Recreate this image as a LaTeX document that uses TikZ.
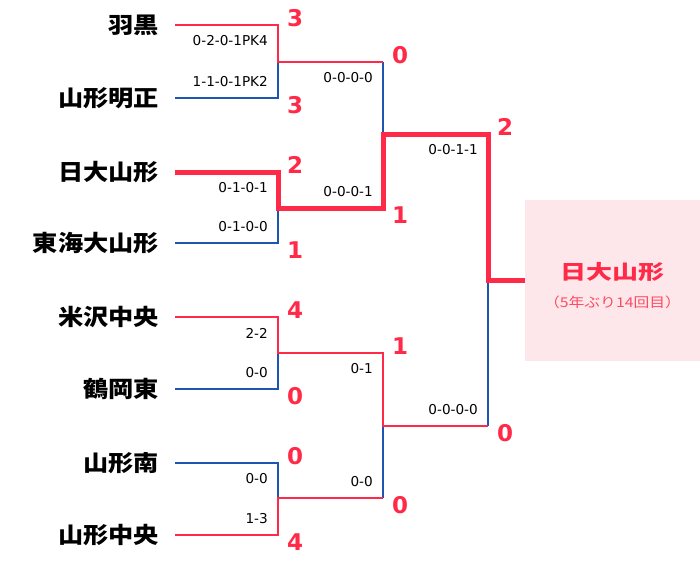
\documentclass[tikz,border=0pt]{standalone}
\usepackage{fontspec}
\newfontfamily\jp{Noto Sans CJK JP}
\newfontfamily\num{DejaVu Sans}
\usetikzlibrary{positioning}
\definecolor{winred}{RGB}{255,42,72}
\definecolor{loseblue}{RGB}{28,86,178}
\definecolor{champpink}{RGB}{253,231,234}
\newcommand{\jpwide}[1]{\scalebox{1.12}[1]{#1}}
\begin{document}
\begin{tikzpicture}[x=1pt, y=-1pt,
	team/.style={inner sep=0pt, font=\jp\bfseries\fontsize{22.5}{24}\selectfont},
	score/.style={inner sep=0pt, text=winred, font=\num\bfseries\fontsize{23}{24}\selectfont, xshift=17pt},
	scoreup/.style={score, yshift=7pt}, scoredown/.style={score, yshift=-7pt},
	res/.style={inner sep=0pt, anchor=east, font=\num\fontsize{13.6}{14}\selectfont, xshift=-10pt},
	resup/.style={res, yshift=16pt}, resdown/.style={res, yshift=-16pt},
	win/.style={draw=winred, line width=2.2pt}, lose/.style={draw=loseblue, line width=2.2pt},
	best/.style={draw=winred, line width=5pt}]
	\useasboundingbox (0,0) rectangle (700,560);
	\coordinate (s1) at (175,25); \coordinate (s2) at (175,98); \coordinate (s3) at (175,172); \coordinate (s4) at (175,243); \coordinate (s5) at (175,317); \coordinate (s6) at (175,389); \coordinate (s7) at (175,463); \coordinate (s8) at (175,535);
	\coordinate (c1) at (278,25); \coordinate (c2) at (278,98); \coordinate (c3) at (278,172); \coordinate (c4) at (278,243); \coordinate (c5) at (278,317); \coordinate (c6) at (278,389); \coordinate (c7) at (278,463); \coordinate (c8) at (278,535);
	\coordinate (j1) at (278,62); \coordinate (j2) at (278,208); \coordinate (j3) at (278,353); \coordinate (j4) at (278,498);
	\coordinate (k1) at (383,62); \coordinate (k2) at (383,208); \coordinate (k3) at (383,353); \coordinate (k4) at (383,498);
	\coordinate (l1) at (383,134); \coordinate (l2) at (383,426);
	\coordinate (m1) at (488,134); \coordinate (m2) at (488,426); \coordinate (f) at (488,280);

	\node[fill=champpink, minimum width=175pt, minimum height=161pt, inner sep=0pt] (champ) at (612.5,280) {};
	\node[inner sep=0pt, text=winred, font=\jp\bfseries\fontsize{20}{22}\selectfont, yshift=8pt] (champname) at (champ.center) {\scalebox{1.3}[1]{日大山形}};
	\node[inner sep=0pt, text=winred!85, font=\jp\fontsize{13.5}{14}\selectfont, yshift=-22pt] (champnote) at (champ.center) {\scalebox{1.17}[1]{（5年ぶり14回目）}};

	\draw[lose] (s2) -- (c2) -- (j1); \draw[lose] (s4) -- (c4) -- (j2); \draw[lose] (s6) -- (c6) -- (j3); \draw[lose] (s7) -- (c7) -- (j4);
	\draw[lose] (k1) -- (l1); \draw[lose] (k4) -- (l2); \draw[lose] (m2) -- (f);
	\draw[win] (s1) -- (c1) -- (j1) -- (k1);
	\draw[win] (s5) -- (c5) -- (j3) -- (k3) -- (l2) -- (m2);
	\draw[win] (s8) -- (c8) -- (j4) -- (k4);
	\draw[best] (s3) -- (c3) -- (j2) -- (k2) -- (l1) -- (m1) -- (f) -- (champ.west);

	\node[team, left=16pt of s1] (haguro) {\jpwide{羽黒}};
	\node[team, left=16pt of s2] (meisei) {\jpwide{山形明正}};
	\node[team, left=16pt of s3] (nichidai) {\jpwide{日大山形}};
	\node[team, left=16pt of s4] (tokai) {\jpwide{東海大山形}};
	\node[team, left=16pt of s5] (yonezawa) {\jpwide{米沢中央}};
	\node[team, left=16pt of s6] (tsuruoka) {\jpwide{鶴岡東}};
	\node[team, left=16pt of s7] (minami) {\jpwide{山形南}};
	\node[team, left=16pt of s8] (chuo) {\jpwide{山形中央}};

	\node[scoreup] at (c1) {3}; \node[scoredown] at (c2) {3}; \node[scoreup] at (k1) {0};
	\node[scoreup] at (c3) {2}; \node[scoredown] at (c4) {1}; \node[scoredown] at (k2) {1};
	\node[scoreup] at (m1) {2}; \node[scoredown] at (m2) {0};
	\node[scoreup] at (c5) {4}; \node[scoredown] at (c6) {0}; \node[scoreup] at (k3) {1};
	\node[scoreup] at (c7) {0}; \node[scoredown] at (c8) {4}; \node[scoredown] at (k4) {0};

	\node[resdown] at (c1) {0-2-0-1PK4}; \node[resup] at (c2) {1-1-0-1PK2}; \node[resdown] at (k1) {0-0-0-0};
	\node[resdown] at (c3) {0-1-0-1}; \node[resup] at (c4) {0-1-0-0}; \node[resup] at (k2) {0-0-0-1};
	\node[resdown] at (m1) {0-0-1-1}; \node[resup] at (m2) {0-0-0-0};
	\node[resdown] at (c5) {2-2}; \node[resup] at (c6) {0-0}; \node[resdown] at (k3) {0-1};
	\node[resdown] at (c7) {0-0}; \node[resup] at (c8) {1-3}; \node[resup] at (k4) {0-0};
\end{tikzpicture}
\end{document}
